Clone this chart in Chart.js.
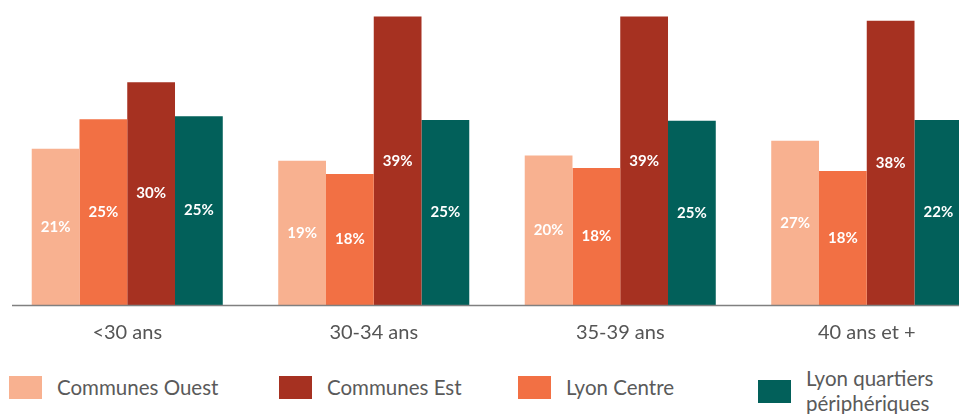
<!DOCTYPE html>
<html>
<head>
<meta charset="utf-8">
<script src="https://cdn.jsdelivr.net/npm/chart.js@4/dist/chart.umd.min.js"></script>
<style>
  html, body { margin: 0; padding: 0; background: #fff; overflow: hidden; }
  #wrap { position: relative; width: 959px; height: 414px; }
  #chartBox { position: absolute; left: 0; top: 0; width: 990px; height: 361px; }
  .legend { position: absolute; top: 370px; left: 0; font-family: Lato, sans-serif; font-size: 20.5px; color: #5a5a5a; }
  .item { position: absolute; display: flex; align-items: center; white-space: nowrap; }
  .item span.box { display: inline-block; width: 33px; height: 23px; margin-right: 15px; }
  .item span.txt { line-height: 25px; }
</style>
</head>
<body>
<div id="wrap">
  <div id="chartBox"><canvas id="ageChart"></canvas></div>
  <div class="legend" id="legend"></div>
</div>
<script>
const categories = ['<30 ans', '30-34 ans', '35-39 ans', '40 ans et +'];

const seriesNames = ['Communes Ouest', 'Lyon Centre', 'Communes Est', 'Lyon quartiers périphériques'];
const seriesColors = ['#F8B190', '#F27044', '#A63121', '#02605A'];

// bar heights as drawn
const communesOuest = [21.1, 19.5, 20.2, 22.2];
const lyonCentre = [25.1, 17.7, 18.5, 18.1];
const communesEst = [30.1, 39.0, 39.0, 38.4];
const lyonPeripheriques = [25.5, 25.0, 24.9, 25.0];

// labels printed on the bars
const labelsOuest = ['21%', '19%', '20%', '27%'];
const labelsCentre = ['25%', '18%', '18%', '18%'];
const labelsEst = ['30%', '39%', '39%', '38%'];
const labelsPeripheriques = ['25%', '25%', '25%', '22%'];

// legend order differs from bar order
const legendOrder = [0, 2, 1, 3];
const legendX = [9, 279, 518, 758];

const values = [communesOuest, lyonCentre, communesEst, lyonPeripheriques];
const barLabels = [labelsOuest, labelsCentre, labelsEst, labelsPeripheriques];

const barText = {
  id: 'barText',
  afterDatasetsDraw(chart) {
    const ctx = chart.ctx;
    ctx.save();
    ctx.font = 'bold 15px Lato';
    ctx.fillStyle = '#ffffff';
    ctx.textAlign = 'center';
    ctx.textBaseline = 'middle';
    chart.data.datasets.forEach((ds, i) => {
      chart.getDatasetMeta(i).data.forEach((bar, j) => {
        const mid = (bar.y + bar.base) / 2;
        ctx.fillText(barLabels[i][j], bar.x, mid);
      });
    });
    // baseline
    const y0 = Math.round(chart.scales.y.getPixelForValue(0)) + 0.5;
    ctx.strokeStyle = '#808080';
    ctx.lineWidth = 1.5;
    ctx.beginPath();
    ctx.moveTo(12, y0);
    ctx.lineTo(chart.width, y0);
    ctx.stroke();
    ctx.restore();
  }
};

const ctx = document.getElementById('ageChart').getContext('2d');

new Chart(ctx, {
  type: 'bar',
  data: {
    labels: categories,
    datasets: seriesNames.map((name, i) => ({
      label: name,
      data: values[i],
      backgroundColor: seriesColors[i],
      borderWidth: 0
    }))
  },
  options: {
    responsive: true,
    maintainAspectRatio: false,
    animation: false,
    layout: { padding: { left: 4, right: 0, top: 9, bottom: 0 } },
    datasets: { bar: { categoryPercentage: 0.775, barPercentage: 1.0 } },
    plugins: {
      legend: { display: false },
      tooltip: { enabled: false }
    },
    scales: {
      x: {
        grid: { display: false, drawTicks: false },
        border: { display: false },
        ticks: {
          color: '#555555',
          font: { family: 'Lato', size: 20 },
          padding: 16
        }
      },
      y: {
        display: false,
        min: 0,
        max: 40
      }
    }
  },
  plugins: [barText]
});

const legend = document.getElementById('legend');
legendOrder.forEach((idx, k) => {
  const item = document.createElement('div');
  item.className = 'item';
  item.style.left = legendX[k] + 'px';
  let txt = seriesNames[idx];
  if (idx === 3) {
    txt = 'Lyon quartiers<br>périphériques';
    item.style.top = '-4px';
  } else {
    item.style.top = '5px';
  }
  item.innerHTML = '<span class="box" style="background:' + seriesColors[idx] + '"></span><span class="txt">' + txt + '</span>';
  legend.appendChild(item);
});
</script>
</body>
</html>
